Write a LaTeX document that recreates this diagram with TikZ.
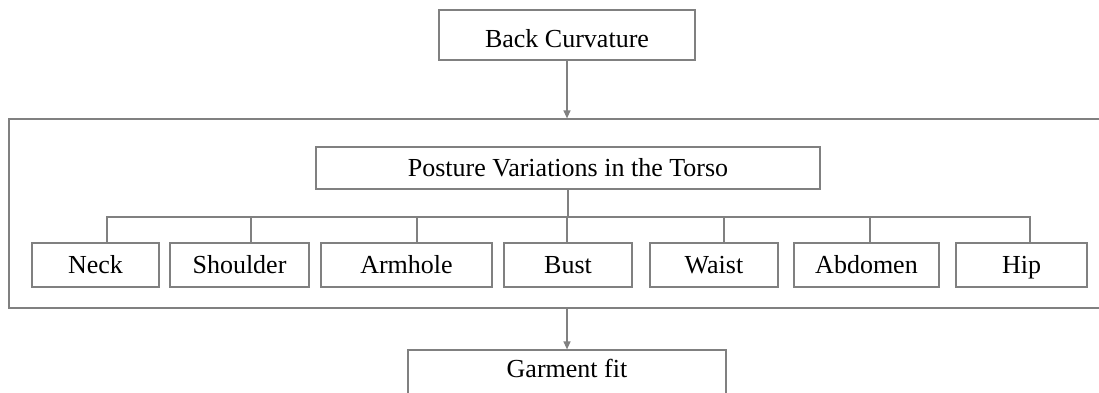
\documentclass[tikz,border=0pt]{standalone}
\usepackage{fontspec}
\setmainfont{Liberation Serif}
\usepackage{tikz}
\usetikzlibrary{arrows.meta,positioning,calc}

\tikzset{
  box/.style={draw=black!50,line width=1.2pt,inner sep=0pt,minimum height=44pt,
    font=\fontsize{26}{31}\selectfont,text height=18pt,text depth=1pt},
  link/.style={draw=black!50,line width=1.2pt},
  flow/.style={link,-{Triangle[length=8pt,width=7pt]}}
}

\begin{document}
\begin{tikzpicture}[x=1pt,y=-1pt]
\useasboundingbox (0,0) rectangle (1099,392);
% top and bottom boxes
\node[box,minimum width=256pt,minimum height=50pt,text height=30pt,text depth=6pt] (back) at (567,35) {Back Curvature};
\node[box,minimum width=1096pt,minimum height=189pt] (frame) at (557,213.5) {};
\node[box,minimum width=504pt,minimum height=42pt] (posture) at (568,168) {Posture Variations in the Torso};
\node[box,minimum width=318pt,minimum height=50pt,text depth=14pt] (fit) at (567,375) {Garment fit};
% body regions
\node[box,minimum width=127pt] (neck) at (95.5,265) {Neck};
\node[box,minimum width=139pt] (shoulder) at (239.5,265) {Shoulder};
\node[box,minimum width=171pt] (armhole) at (406.5,265) {Armhole};
\node[box,minimum width=128pt] (bust) at (568,265) {Bust};
\node[box,minimum width=128pt] (waist) at (714,265) {Waist};
\node[box,minimum width=145pt] (abdomen) at (866.5,265) {Abdomen};
\node[box,minimum width=131pt] (hip) at (1021.5,265) {Hip};
\coordinate (bus) at (568,217);
% connectors
\draw[flow] (back) -- (back |- frame.north);
\draw[flow] (fit |- frame.south) -- (fit);
\draw[link] (posture) -- (posture |- bus);
\draw[link] ([xshift=11.5pt]neck.north) |- (bus) -| ([xshift=8.5pt]hip.north);
\foreach \n/\dx in {shoulder/11.5,armhole/10.5,bust/-1,waist/10,abdomen/3.5}
  \draw[link] ([xshift=\dx pt]\n.north) -- ([xshift=\dx pt]\n.north |- bus);
\end{tikzpicture}
\end{document}
